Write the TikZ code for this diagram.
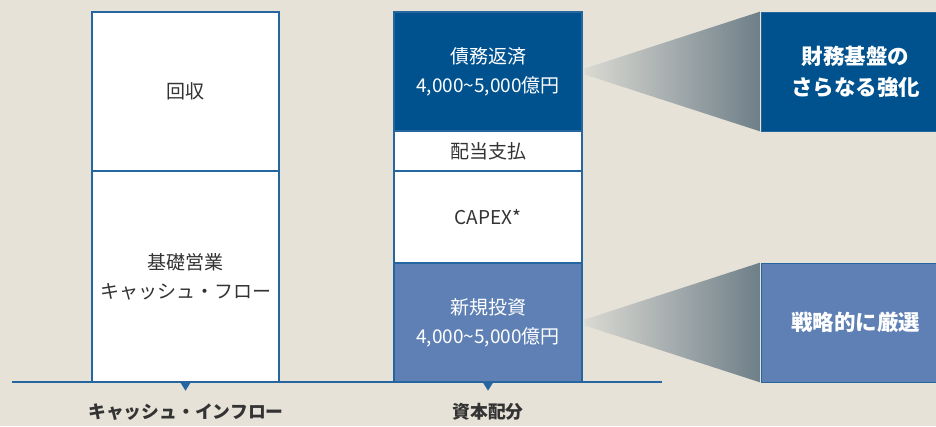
\documentclass[tikz,border=0pt]{standalone}
\usepackage{fontspec}
\newfontfamily\jp{Noto Sans CJK JP}
\definecolor{bg}{HTML}{E6E2D8}
\definecolor{dblue}{HTML}{00528F}
\definecolor{lblue}{HTML}{5E80B5}
\definecolor{edge}{HTML}{2565A0}
\definecolor{txt}{HTML}{333333}
\definecolor{gl}{HTML}{DAD9D2}
\definecolor{gd}{HTML}{6E7F88}
\tikzset{
  cell/.style={draw=edge, line width=1.4pt, inner sep=0pt, font=\jp\fontsize{19}{29}\selectfont, text=txt, align=center},
  wcell/.style={cell, fill=white},
  dcell/.style={cell, fill=dblue, text=white},
  lcell/.style={cell, fill=lblue, text=white},
  bigbox/.style={draw=edge, line width=1pt, inner sep=0pt, font=\jp\bfseries\fontsize{21.5}{31}\selectfont, text=white, align=center},
  axislab/.style={font=\jp\bfseries\fontsize{17.8}{20}\selectfont, text=txt},
  tick/.style={fill=edge, draw=none}
}
\begin{document}
\begin{tikzpicture}[x=1pt,y=-1pt]
\fill[bg] (0,0) rectangle (936,426);
\useasboundingbox (0,0) rectangle (936,426);
% left column
\node[wcell, minimum width=187pt, minimum height=159pt] (rec) at (185.5,91.5) {回収};
\node[wcell, minimum width=187pt, minimum height=211pt] (ocf) at (185.5,276.5) {基礎営業\\キャッシュ・フロー};
% right column
\node[dcell, minimum width=188pt, minimum height=119pt] (debt) at (488,71.5) {債務返済\\4,000\textasciitilde5,000億円};
\node[wcell, minimum width=188pt, minimum height=40pt] (div) at (488,151) {配当支払};
\node[wcell, minimum width=188pt, minimum height=92pt] (capex) at (488,217) {CAPEX*};
\node[lcell, minimum width=188pt, minimum height=119pt] (inv) at (488,322.5) {新規投資\\4,000\textasciitilde5,000億円};
% right boxes
\node[bigbox, fill=dblue, minimum width=189pt, minimum height=119pt] (fin) at (855.5,71.5) {財務基盤の\\さらなる強化};
\node[bigbox, fill=lblue, minimum width=189pt, minimum height=119pt] (sel) at (855.5,322.5) {戦略的に厳選};
% funnels
\shade[left color=gl, right color=gd] ([xshift=2pt,yshift=3pt]debt.east) -- (fin.north west) -- (fin.south west) -- ([xshift=2pt,yshift=-3pt]debt.east) -- cycle;
\shade[left color=gl, right color=gd] ([xshift=2pt,yshift=3pt]inv.east) -- (sel.north west) -- (sel.south west) -- ([xshift=2pt,yshift=-3pt]inv.east) -- cycle;
% axis
\coordinate (axl) at (12,382);
\coordinate (axr) at (662,382);
\draw[edge, line width=2pt] (axl) -- (axr);
\fill[tick] (ocf.south) ++(-5,0) -- ++(10,0) -- ++(-5,8) -- cycle;
\fill[tick] (inv.south) ++(-5,0) -- ++(10,0) -- ++(-5,8) -- cycle;
\node[axislab] (l1) at (186,412) {キャッシュ・インフロー};
\node[axislab] (l2) at (488,412) {資本配分};
\end{tikzpicture}
\end{document}
